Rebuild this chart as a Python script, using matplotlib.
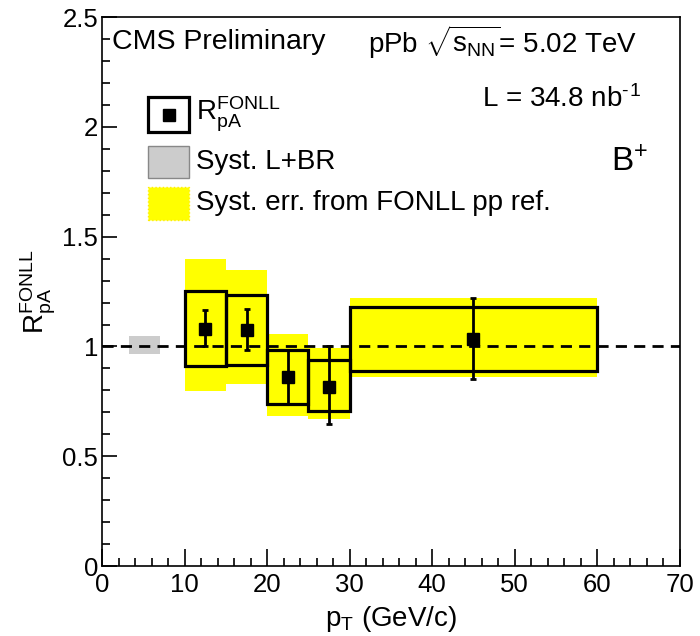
import matplotlib
matplotlib.use('Agg')
import matplotlib.pyplot as plt
from matplotlib.patches import Rectangle
from matplotlib.lines import Line2D
from matplotlib.ticker import MultipleLocator, FixedLocator, FixedFormatter

plt.rcParams['font.family'] = ['Liberation Sans', 'DejaVu Sans']
plt.rcParams['mathtext.fontset'] = 'custom'
plt.rcParams['mathtext.rm'] = 'Liberation Sans'
plt.rcParams['mathtext.it'] = 'Liberation Sans'
plt.rcParams['mathtext.bf'] = 'Liberation Sans:bold'

# pT bins (GeV/c)
bin_lo = [10, 15, 20, 25, 30]
bin_hi = [15, 20, 25, 30, 60]
pt_center = [12.5, 17.5, 22.5, 27.5, 45.0]

# R_pA^FONLL with stat. errors
rpa = [1.08, 1.075, 0.86, 0.815, 1.035]
stat_lo = [1.00, 0.985, 0.74, 0.645, 0.85]
stat_hi = [1.165, 1.17, 0.985, 1.00, 1.22]

# syst. boxes (black outline)
syst_lo = [0.91, 0.915, 0.74, 0.705, 0.89]
syst_hi = [1.255, 1.235, 0.985, 0.94, 1.18]

# syst. from FONLL pp reference (yellow)
fonll_lo = [0.797, 0.83, 0.685, 0.67, 0.86]
fonll_hi = [1.398, 1.35, 1.055, 0.995, 1.22]

# global syst. L+BR (grey box)
glob_x = [3.2, 7.0]
glob_y = [0.965, 1.05]

ytick_vals = [0, 0.5, 1, 1.5, 2, 2.5]
ytick_labels = ['0', '0.5', '1', '1.5', '2', '2.5']

fig = plt.figure(figsize=(7, 6.36), dpi=100)
ax = fig.add_axes([0.146, 0.11, 0.825, 0.863])

for lo, hi, flo, fhi in zip(bin_lo, bin_hi, fonll_lo, fonll_hi):
    ax.add_patch(Rectangle((lo, flo), hi - lo, fhi - flo, facecolor='#ffff00',
                           edgecolor='none', zorder=1))

for lo, hi, slo, shi in zip(bin_lo, bin_hi, syst_lo, syst_hi):
    ax.add_patch(Rectangle((lo, slo), hi - lo, shi - slo, facecolor='none',
                           edgecolor='black', lw=2.3, zorder=2))

ax.add_patch(Rectangle((glob_x[0], glob_y[0]), glob_x[1] - glob_x[0],
                       glob_y[1] - glob_y[0], facecolor='#cccccc',
                       edgecolor='none', zorder=2))

ax.axhline(1.0, color='black', lw=2, ls=(0, (4, 2.6)), zorder=3)

err_lo = [r - s for r, s in zip(rpa, stat_lo)]
err_hi = [s - r for r, s in zip(rpa, stat_hi)]
ax.errorbar(pt_center, rpa, yerr=[err_lo, err_hi], fmt='s', color='black',
            ms=8, elinewidth=2, capsize=2.5, capthick=2, zorder=4)

ax.set_xlim(0, 70)
ax.set_ylim(0, 2.5)
ax.xaxis.set_major_locator(MultipleLocator(10))
ax.xaxis.set_minor_locator(MultipleLocator(2))
ax.yaxis.set_major_locator(FixedLocator(ytick_vals))
ax.yaxis.set_major_formatter(FixedFormatter(ytick_labels))
ax.yaxis.set_minor_locator(MultipleLocator(0.1))
ax.tick_params(axis='both', which='both', direction='in', top=False, right=False,
               width=1.2, labelsize=18.5)
ax.tick_params(axis='x', which='major', length=12, pad=5)
ax.tick_params(axis='x', which='minor', length=6)
ax.tick_params(axis='y', which='major', length=11, pad=3)
ax.tick_params(axis='y', which='minor', length=6)
for sp in ax.spines.values():
    sp.set_linewidth(1.2)

ax.set_xlabel(r'p$_\mathrm{T}$ (GeV/c)', fontsize=20)
ax.xaxis.set_label_coords(0.5, -0.07)
ax.set_ylabel(r'R$_\mathrm{pA}^\mathrm{FONLL}$', fontsize=20)
ax.yaxis.set_label_coords(-0.076, 0.5)

tr = ax.transAxes
ax.text(0.017, 0.954, 'CMS Preliminary', transform=tr, fontsize=20.5, va='center')
ax.text(0.46, 0.954, r'pPb $\sqrt{\mathrm{s}_\mathrm{NN}}$= 5.02 TeV', transform=tr,
        fontsize=20, va='center')
ax.text(0.934, 0.85, 'L = 34.8 nb$^\\mathrm{\u2010}$$^\\mathrm{1}$', transform=tr,
        fontsize=20, va='center', ha='right')
ax.text(0.945, 0.735, r'B$^\mathrm{+}$', transform=tr, fontsize=24,
        va='center', ha='right')

# legend drawn by hand
ax.add_patch(Rectangle((0.0794, 0.790), 0.0706, 0.064, transform=tr,
                       facecolor='none', edgecolor='black', lw=2.3, zorder=5))
ax.add_line(Line2D([0.115], [0.822], transform=tr, marker='s', ms=8,
                   color='black', zorder=6))
ax.add_patch(Rectangle((0.0794, 0.707), 0.0706, 0.058, transform=tr,
                       facecolor='#cccccc', edgecolor='#888888', lw=1, zorder=5))
ax.add_patch(Rectangle((0.0794, 0.630), 0.0706, 0.060, transform=tr,
                       facecolor='#ffff00', edgecolor='#ffee00', lw=1,
                       ls=':', zorder=5))
ax.text(0.162, 0.822, r'R$_\mathrm{pA}^\mathrm{FONLL}$', transform=tr, fontsize=20,
        va='center')
ax.text(0.162, 0.736, 'Syst. L+BR', transform=tr, fontsize=20, va='center')
ax.text(0.162, 0.661, 'Syst. err. from FONLL pp ref.', transform=tr, fontsize=20,
        va='center')

fig.savefig('out.png', dpi=100)
